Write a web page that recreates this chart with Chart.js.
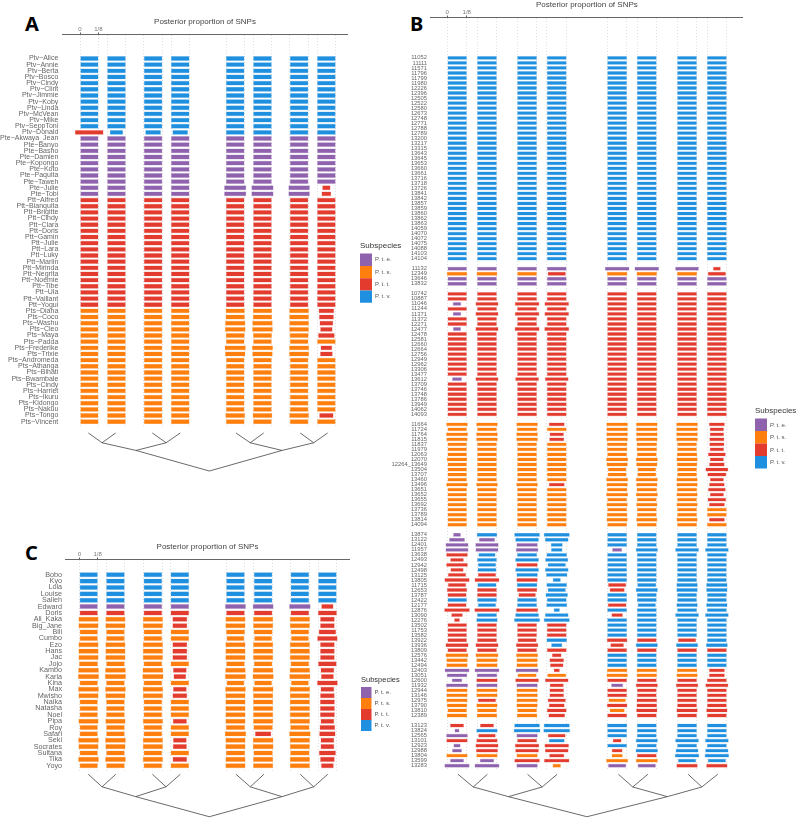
<!DOCTYPE html>
<html>
<head>
<meta charset="utf-8">
<title>Posterior proportion of SNPs</title>
<script src="https://cdn.jsdelivr.net/npm/chart.js@4"></script>
<style>
  html, body { margin: 0; padding: 0; background: #fff; }
  body { position: relative; width: 796px; height: 818px; overflow: hidden; }
  canvas { position: absolute; }
  .letter { position: absolute; font: bold 20px "Noto Sans", sans-serif; line-height: 20px; color: #000; }
</style>
</head>
<body>
<div class="letter" style="left:25px;top:14px">A</div>
<div class="letter" style="left:410px;top:14px">B</div>
<div class="letter" style="left:25px;top:543px">C</div>
<script>
const subspeciesNames = ["P. t. e.", "P. t. s.", "P. t. t.", "P. t. v."];
const subspeciesKeys = ["e", "s", "t", "v"];
const subspeciesColors = ["#8f62ae", "#ff7f0e", "#e33b2e", "#1f90e0"];
const xTickLabels = ["0", "1/8"];

// widths are posterior proportion x 1000 (125 = 1/8), one value per column
const labelsA = ["Ptv−Alice","Ptv−Annie","Ptv−Berta","Ptv−Bosco","Ptv−Cindy","Ptv−Clint","Ptv−Jimmie","Ptv−Koby","Ptv−Linda","Ptv−McVean","Ptv−Mike","Ptv−SeppToni","Ptv−Donald",
  "Pte−Akwaya_Jean","Pte−Banyo","Pte−Basho","Pte−Damien","Pte−Kopongo","Pte−Koto","Pte−Paquita","Pte−Taweh","Pte−Julie","Pte−Tobi",
  "Ptt−Alfred","Ptt−Blanquita","Ptt−Brigitte","Ptt−Cindy","Ptt−Clara","Ptt−Doris","Ptt−Gamin","Ptt−Julie","Ptt−Lara","Ptt−Luky","Ptt−Marlin","Ptt−Mirinda","Ptt−Negrita","Ptt−Noemie","Ptt−Tibe","Ptt−Ula","Ptt−Vaillant","Ptt−Yogui",
  "Pts−Diana","Pts−Coco","Pts−Washu","Pts−Cleo","Pts−Maya","Pts−Padda","Pts−Frederike","Pts−Trixie","Pts−Andromeda","Pts−Athanga","Pts−Bihati","Pts−Bwambale","Pts−Cindy","Pts−Harriet","Pts−Ikuru","Pts−Kidongo","Pts−Nakuu","Pts−Tongo","Pts−Vincent"];
const coloursA = ["vvvvvvvv","vvvvvvvv","vvvvvvvv","vvvvvvvv","vvvvvvvv","vvvvvvvv","vvvvvvvv","vvvvvvvv","vvvvvvvv","vvvvvvvv","vvvvvvvv","vvvvvvvv","tvvvvvvv",
  "eeeeeeee","eeeeeeee","eeeeeeee","eeeeeeee","eeeeeeee","eeeeeeee","eeeeeeee","eeeeeeee","eeeeeeet","eeeeeeet",
  "tttttttt","tttttttt","tttttttt","tttttttt","tttttttt","tttttttt","tttttttt","tttttttt","tttttttt","tttttttt","tttttttt","tttttttt","tttttttt","tttttttt","tttttttt","tttttttt","tttttttt","tttttttt",
  "ssssssst","ssssssst","ssssssst","ssssssst","ssssssst","ssssssss","ssssssst","ssssssst","ssssssss","ssssssss","ssssssss","ssssssss","ssssssss","ssssssss","ssssssss","ssssssss","ssssssss","ssssssst","ssssssss"];
const widthsA = [
  [125,125,125,125,125,125,125,125],[125,125,125,125,125,125,125,125],[125,125,125,125,125,125,125,125],[125,125,125,125,125,125,125,125],
  [125,125,125,125,125,125,125,125],[125,125,125,125,125,125,125,125],[125,125,125,125,125,125,125,125],[125,125,125,125,125,125,125,125],
  [125,125,125,125,125,125,125,125],[125,125,125,125,125,125,125,125],[125,125,125,125,125,125,125,125],[125,125,125,125,125,125,125,125],
  [194,90,105,105,125,125,125,125],
  [125,125,125,125,125,125,125,125],[125,125,125,125,125,125,125,125],[125,125,125,125,125,125,125,125],[125,125,125,125,125,125,125,125],
  [125,125,125,125,125,125,125,125],[125,125,125,125,125,125,125,125],[125,125,125,125,125,125,125,125],[125,125,125,125,125,125,125,125],
  [125,125,125,125,150,150,145,55],[125,125,125,125,150,150,145,65],
  [125,125,125,125,125,125,125,125],[125,125,125,125,125,125,125,125],[125,125,125,125,125,125,125,125],[125,125,125,125,125,125,125,125],
  [125,125,125,125,125,125,125,125],[125,125,125,125,125,125,125,125],[125,125,125,125,125,125,125,125],[125,125,125,125,125,125,125,125],
  [125,125,125,125,125,125,125,125],[125,125,125,125,125,125,125,125],[125,125,125,125,125,125,125,125],[125,125,125,125,125,125,125,125],
  [125,125,125,125,125,125,125,125],[125,125,125,125,125,125,125,125],[125,125,125,125,125,125,125,125],[125,125,125,125,125,125,125,125],
  [125,125,125,125,125,125,125,125],[125,125,125,125,125,125,125,125],
  [125,125,125,125,130,130,133,105],[125,125,125,125,130,130,133,100],[125,125,125,125,138,138,133,92],[125,125,125,125,140,140,133,83],
  [125,125,125,125,128,128,128,112],[125,125,125,125,125,125,125,125],[125,125,125,125,143,143,135,78],[125,125,125,125,138,138,135,85],
  [125,125,125,125,125,125,125,125],[125,125,125,125,125,125,125,125],[125,125,125,125,125,125,125,125],[125,125,125,125,125,125,125,125],
  [125,125,125,125,125,125,125,125],[125,125,125,125,125,125,125,125],[125,125,125,125,125,125,125,125],[125,125,125,125,125,125,125,125],
  [125,125,125,125,125,125,125,125],[125,125,125,125,133,133,133,96],[125,125,125,125,125,125,125,125]];

const labelsB = ["11052","11111","11571","11796","11799","11980","12226","12396","12505","12522","12580","12673","12748","12771","12788","12789","13200","13217","13315","13643","13645","13653","13660","13661","13716","13718","13726","13841","13842","13857","13859","13860","13862","13863","14059","14070","14072","14075","14088","14103","14104","",
  "11132","12349","13646","13832","",
  "10742","10887","11046","11244","11371","11372","12271","12477","12478","12581","12660","12664","12756","12949","12962","13306","13477","13612","13709","13746","13748","13786","13949","14062","14093","",
  "11664","11724","11764","11815","11837","11979","12063","12070","12264_13649","13504","13707","13460","13496","13651","13652","13655","13692","13736","13789","13814","14094","",
  "13874","13122","12401","11957","13638","12493","12942","12498","13125","13805","11715","12653","13787","12422","12177","12876","13090","12276","13502","11753","13582","13922","13936","13809","12576","13442","12494","12403","13051","12600","11932","12944","13146","12975","13790","13810","12389","",
  "13123","13824","12565","13101","12923","12988","13804","13599","13283"];
const coloursB = [
  "vvvvvvvv","vvvvvvvv","vvvvvvvv","vvvvvvvv","vvvvvvvv","vvvvvvvv","vvvvvvvv","vvvvvvvv","vvvvvvvv","vvvvvvvv","vvvvvvvv","vvvvvvvv","vvvvvvvv","vvvvvvvv",
  "vvvvvvvv","vvvvvvvv","vvvvvvvv","vvvvvvvv","vvvvvvvv","vvvvvvvv","vvvvvvvv","vvvvvvvv","vvvvvvvv","vvvvvvvv","vvvvvvvv","vvvvvvvv","vvvvvvvv","vvvvvvvv",
  "vvvvvvvv","vvvvvvvv","vvvvvvvv","vvvvvvvv","vvvvvvvv","vvvvvvvv","vvvvvvvv","vvvvvvvv","vvvvvvvv","vvvvvvvv","vvvvvvvv","vvvvvvvv","vvvvvvvv","",
  "eeeeeeet","ssstssst","eeeeeeee","eeeeeeee","",
  "tttttttt","tttttttt","ettttttt","tttttttt","ettttttt","tttttttt","tttttttt","ettttttt","tttttttt","tttttttt","tttttttt","tttttttt","tttttttt",
  "tttttttt","tttttttt","tttttttt","tttttttt","ettttttt","tttttttt","tttttttt","tttttttt","tttttttt","tttttttt","tttttttt","tttttttt","",
  "ssstssst","ssssssst","ssstssst","ssstssst","ssssssst","ssssssst","ssssssst","ssssssst","ssssssst","ssssssst","ssssssst","ssssssst","ssstssst",
  "ssssssst","ssssssst","ssssssst","ssssssst","ssssssss","ssssssss","ssssssst","ssssssss","",
  "evvvvvvv","eevvvvvv","eeevvvvv","eeevevvv","tvvvvvvv","tvvvvvvv","tvtvvvvv","tvvvvvvv","ttvvvvvv","tttvvvvv",
  "tvvvtvvv","tttvtvvv","tttvvvvv","vvvvvvvv","tvvvtvvv","tttvvvvv","tvvvtvvv","tvvvvvvv","ttttvvvv","ttttvvvv",
  "ttttvvvv","tttvtttv","tttvtvvv","tttttttt","ssstvvvv","ssstvvvv","ssstvvvv","eeetssst","eessssst","ettttttt",
  "eeetettt","sssttttt","sssttttt","stststtt","sssttttt","ssststtt","sssttttt","",
  "ttvvvvvv","evvvvvvv","etetvvvv","tttvtvvv","etttvvvv","ettttvvv","ssststvv","eettssvv","eeeseett"];
const widthsB = [
  [125,125,125,125,125,125,125,125],[125,125,125,125,125,125,125,125],[125,125,125,125,125,125,125,125],[125,125,125,125,125,125,125,125],[125,125,125,125,125,125,125,125],[125,125,125,125,125,125,125,125],[125,125,125,125,125,125,125,125],
  [125,125,125,125,125,125,125,125],[125,125,125,125,125,125,125,125],[125,125,125,125,125,125,125,125],[125,125,125,125,125,125,125,125],[125,125,125,125,125,125,125,125],[125,125,125,125,125,125,125,125],[125,125,125,125,125,125,125,125],
  [125,125,125,125,125,125,125,125],[125,125,125,125,125,125,125,125],[125,125,125,125,125,125,125,125],[125,125,125,125,125,125,125,125],[125,125,125,125,125,125,125,125],[125,125,125,125,125,125,125,125],[125,125,125,125,125,125,125,125],
  [125,125,125,125,125,125,125,125],[125,125,125,125,125,125,125,125],[125,125,125,125,125,125,125,125],[125,125,125,125,125,125,125,125],[125,125,125,125,125,125,125,125],[125,125,125,125,125,125,125,125],[125,125,125,125,125,125,125,125],
  [125,125,125,125,125,125,125,125],[125,125,125,125,125,125,125,125],[125,125,125,125,125,125,125,125],[125,125,125,125,125,125,125,125],[125,125,125,125,125,125,125,125],[125,125,125,125,125,125,125,125],[125,125,125,125,125,125,125,125],
  [125,125,125,125,125,125,125,125],[125,125,125,125,125,125,125,125],[125,125,125,125,125,125,125,125],[125,125,125,125,125,125,125,125],[125,125,125,125,125,125,125,125],[125,125,125,125,125,125,125,125],null,
  [125,125,125,125,156,156,150,48],[130,132,125,115,130,130,128,115],[125,125,125,125,125,125,125,125],[125,125,125,125,125,125,125,125],null,
  [125,125,125,125,125,125,125,125],[125,125,125,125,125,125,125,125],[52,146,156,156,125,125,125,125],[125,125,125,125,125,125,125,125],[52,146,156,156,125,125,125,125],
  [125,125,125,125,125,125,125,125],[125,125,125,125,125,125,125,125],[50,146,158,158,125,125,125,125],[125,125,125,125,125,125,125,125],[125,125,125,125,125,125,125,125],
  [125,125,125,125,125,125,125,125],[125,125,125,125,125,125,125,125],[125,125,125,125,125,125,125,125],[125,125,125,125,125,125,125,125],[125,125,125,125,125,125,125,125],
  [125,125,125,125,125,125,125,125],[125,125,125,125,125,125,125,125],[62,146,150,150,125,125,125,125],[125,125,125,125,125,125,125,125],[125,125,125,125,125,125,125,125],
  [125,125,125,125,125,125,125,125],[125,125,125,125,125,125,125,125],[125,125,125,125,125,125,125,125],[125,125,125,125,125,125,125,125],[125,125,125,125,125,125,125,125],null,
  [137,137,137,100,137,137,137,100],[125,125,130,125,137,137,137,90],[140,137,137,90,137,137,137,90],[135,137,137,95,137,137,137,95],[125,125,125,125,130,130,125,95],
  [125,125,125,125,130,130,125,90],[125,125,125,125,125,125,130,112],[130,125,125,125,140,140,135,88],[125,125,125,125,135,135,130,98],[125,125,125,125,118,118,125,145],
  [125,125,125,125,120,120,125,120],[125,125,125,125,140,140,135,88],[137,137,137,100,135,135,135,98],[125,125,125,125,130,130,128,112],[125,125,125,125,140,140,135,88],
  [125,125,125,125,125,125,125,118],[125,125,125,125,135,135,135,100],[125,125,125,125,125,125,125,125],[125,125,125,125,130,125,125,125],[125,125,125,125,135,135,135,100],[125,125,125,125,125,125,125,125],null,
  [48,130,163,165,125,125,125,125],[100,102,150,150,125,125,125,125],[146,148,135,75,125,125,125,125],[146,146,143,72,62,140,150,150],[137,108,127,130,125,125,125,125],
  [85,125,150,146,125,125,125,125],[137,115,135,115,125,125,125,125],[83,120,150,150,125,125,125,125],[115,115,135,135,125,125,125,125],[160,158,135,50,125,125,125,125],
  [115,120,130,130,115,120,135,135],[128,125,128,115,95,140,135,135],[120,125,110,142,125,125,125,125],[125,125,125,125,125,125,125,125],[120,115,125,132,118,115,135,135],
  [162,160,140,38,125,125,125,125],[72,125,150,150,72,125,150,150],[35,135,165,165,125,125,125,125],[125,125,125,125,125,125,125,125],[125,125,125,125,125,125,125,125],
  [125,125,125,125,125,125,125,125],[125,125,120,130,130,125,115,125],[146,146,142,70,85,140,140,138],[125,125,125,125,125,125,125,125],[146,146,140,60,125,125,125,125],
  [135,135,135,92,125,125,125,125],[135,135,135,85,125,125,125,125],[158,158,146,38,130,130,130,100],[130,130,120,120,135,130,135,100],[65,135,150,150,125,125,125,125],
  [140,135,135,88,75,140,142,146],[135,135,135,92,125,125,125,125],[135,135,135,92,125,125,125,125],[135,115,135,115,110,130,125,125],[130,135,135,100,130,130,125,125],
  [125,125,125,125,95,135,135,135],[130,130,130,105,125,125,125,125],null,
  [88,88,163,165,128,125,125,125],[30,135,170,170,125,125,125,125],[137,110,135,112,125,125,125,125],[135,135,125,100,55,140,150,150],[44,146,155,156,125,125,125,125],
  [62,140,150,150,68,142,145,148],[135,135,135,95,70,125,155,155],[88,90,162,162,140,140,115,115],[160,158,135,52,115,115,135,135]];

const labelsC = ["Bobo","Kyo","Lola","Louise","Salleh","Edward","Doris","Ali_Kaka","Big_Jane","Bili","Cumbo","Ezo","Hans","Jac","Jojo","Kambo","Karla","Kina","Max","Mwisho","Naika","Natasha","Noel","Pipa","Roy","Safari","Seki","Socrates","Sultana","Tika","Yoyo"];
const coloursC = ["vvvvvvvv","vvvvvvvv","vvvvvvvv","vvvvvvvv","vvvvvvvv","eeeeeeet","tttttttt",
  "ssstssst","ssstssst","ssssssst","ssssssst","ssstssst","ssstssst","ssstssst","ssssssst","ssstssst","ssstssst","ssssssst","ssstssst","ssstssst",
  "ssssssst","ssssssst","ssssssst","ssstssst","ssssssst","ssssstst","ssstssst","ssstssst","ssssssst","ssstssst","ssssssst"];
const widthsC = [
  [125,125,125,125,125,125,125,125],[125,125,125,125,125,125,125,125],[125,125,125,125,125,125,125,125],[125,125,125,125,125,125,125,125],[125,125,125,125,125,125,125,125],
  [125,125,125,125,141,141,145,82],[125,125,125,125,125,125,125,128],
  [136,136,136,100,136,136,136,98],[136,136,136,100,136,136,136,98],[125,125,125,125,128,128,125,118],[125,125,125,125,120,120,120,138],
  [136,136,136,100,136,136,136,98],[136,136,136,100,136,136,136,98],[136,136,136,100,136,136,136,98],[128,125,125,125,125,125,125,125],
  [140,140,140,92,138,138,138,92],[143,143,143,85,143,143,143,86],[125,125,125,125,120,120,120,140],[140,140,138,92,140,140,138,92],[136,136,136,100,136,136,136,98],
  [125,125,125,125,136,136,136,100],[125,125,125,125,136,136,136,100],[125,125,125,125,136,136,136,100],[136,136,136,95,136,136,136,92],[125,125,125,125,130,130,130,105],
  [125,125,125,125,145,110,145,110],[140,140,136,92,136,140,136,92],[136,136,136,95,136,140,136,92],[125,125,125,125,130,130,130,115],[140,140,136,98,136,136,136,98],[125,125,125,125,136,136,136,85]];

// dendrogram shared by the three panels: 8 tips, 4 pairs, 2 clades, root
const treeEdges = [[0,8],[1,8],[2,9],[3,9],[4,10],[5,10],[6,11],[7,11],[8,12],[9,12],[10,13],[11,13],[12,14],[13,14]];
const treeXA = [57,243,493,684,1064,1253,1502,1689,150,587,1161,1594,382,1378,882];
const treeXB = [67,256,513,703,1096,1285,1543,1733,165,607,1188,1631,391,1410,894];
const treeXC = [61,249,499,690,1070,1261,1509,1697,155,592,1168,1601,385,1384,888];
const treeDepthA = [0,0,0,0,0,0,0,0,1,1,1,1,1.78,1.78,3.88];
const treeDepthB = [0,0,0,0,0,0,0,0,1,1,1,1,1.76,1.76,3.34];
const treeDepthC = [0,0,0,0,0,0,0,0,1,1,1,1,1.78,1.78,3.38];

const columnStartA = [0,186,436,621,996,1182,1432,1618];
const columnStartB = [0,192,449,639,1026,1216,1474,1665];
const columnStartC = [0,184,440,624,1004,1193,1444,1632];

const colourFor = (key) => subspeciesColors[subspeciesKeys.indexOf(key)];

function hexAlpha(hex, a) {
  const n = parseInt(hex.slice(1), 16);
  return `rgba(${n >> 16},${(n >> 8) & 255},${n & 255},${a})`;
}

function addCanvas(left, top, width, height) {
  const c = document.createElement("canvas");
  c.style.left = left + "px";
  c.style.top = top + "px";
  c.style.width = width + "px";
  c.style.height = height + "px";
  c.width = width;
  c.height = height;
  document.body.appendChild(c);
  return c;
}

function drawBars(p) {
  const datasets = p.columns.map((start, j) => {
    const data = [];
    const colours = [];
    const edges = [];
    p.labels.forEach((label, i) => {
      if (!p.widths[i]) return;
      const w = p.widths[i][j];
      const mid = start + 62.5;
      data.push({ x: [mid - w / 2, mid + w / 2], y: i });
      const col = colourFor(p.colours[i][j]);
      colours.push(col);
      edges.push(hexAlpha(col, 0.25));
    });
    return {
      label: "column " + (j + 1),
      data,
      backgroundColor: colours,
      borderColor: edges,
      borderWidth: 0.7,
      borderSkipped: false,
      barThickness: p.barThickness,
      grouped: false,
    };
  });
  const ticksX = [];
  p.columns.forEach((start) => ticksX.push(start, start + 125));

  const pitch = (p.lastY - p.firstY) / (p.labels.length - 1);
  const yMin = -(p.firstY - p.axisY) / pitch;
  const yMax = yMin + (p.gridBottom - p.axisY) / pitch;
  const top = Math.round(p.axisY - p.axisHeight);

  new Chart(addCanvas(p.left, top, p.width, Math.round(p.gridBottom - top)), {
    type: "bar",
    data: { datasets },
    options: {
      indexAxis: "y",
      responsive: false,
      animation: false,
      devicePixelRatio: 1,
      layout: { padding: 0 },
      plugins: { legend: { display: false }, tooltip: { enabled: false } },
      scales: {
        x: {
          type: "linear",
          position: "top",
          min: p.xMin,
          max: p.xMax,
          title: {
            display: true,
            text: "Posterior proportion of SNPs",
            color: "#444",
            font: { family: "Liberation Sans", size: 8 },
            padding: { top: 0, bottom: 0 },
          },
          border: { color: "#666", width: 1, dash: [1, 2] },
          grid: {
            color: "#d8d8d8",
            lineWidth: 0.8,
            tickLength: 2,
            tickColor: (ctx) => (ctx.index < 2 ? "#333" : "rgba(0,0,0,0)"),
            tickBorderDash: [],
          },
          afterBuildTicks: (scale) => {
            scale.ticks = ticksX.map((value) => ({ value }));
          },
          afterFit: (scale) => {
            scale.height = p.axisHeight;
          },
          ticks: {
            autoSkip: false,
            maxRotation: 0,
            padding: 0,
            color: "#777",
            font: { family: "Liberation Sans", size: 6 },
            callback: (value, index) => xTickLabels[index] || "",
          },
        },
        y: {
          type: "linear",
          reverse: true,
          offset: false,
          min: yMin,
          max: yMax,
          border: { display: false },
          grid: { display: false, drawTicks: false, offset: false },
          afterBuildTicks: (scale) => {
            scale.ticks = p.labels.map((_, value) => ({ value }));
          },
          afterFit: (scale) => {
            scale.width = p.labelWidth;
            scale.paddingTop = 0;
            scale.paddingBottom = 0;
          },
          ticks: {
            autoSkip: false,
            maxRotation: 0,
            padding: p.labelPad,
            color: "#666",
            font: { family: "Liberation Sans", size: p.labelSize },
            callback: (value) => p.labels[value] || "",
          },
        },
      },
    },
  });
}

function drawTree(p) {
  const points = [];
  treeEdges.forEach(([a, b]) => {
    points.push({ x: p.treeX[a], y: p.treeDepth[a] });
    points.push({ x: p.treeX[b], y: p.treeDepth[b] });
    points.push({ x: null, y: null });
  });
  const depthMax = Math.max(...p.treeDepth);
  const areaLeft = p.left + p.labelWidth;
  new Chart(addCanvas(areaLeft, p.treeTop, p.width - p.labelWidth, Math.round((depthMax + 0.2) * p.treeStep)), {
    type: "scatter",
    data: {
      datasets: [{
        label: "tree",
        data: points,
        showLine: true,
        spanGaps: false,
        pointRadius: 0,
        borderColor: "#444",
        borderWidth: 0.8,
      }],
    },
    options: {
      responsive: false,
      animation: false,
      devicePixelRatio: 1,
      layout: { padding: 0 },
      plugins: { legend: { display: false }, tooltip: { enabled: false } },
      scales: {
        x: { type: "linear", display: false, min: p.xMin, max: p.xMax },
        y: { type: "linear", display: false, reverse: true, min: -0.1, max: depthMax + 0.1 },
      },
    },
  });
}

function drawLegend(l) {
  new Chart(addCanvas(l.left, l.top, 60, l.height), {
    type: "bar",
    data: {
      datasets: subspeciesNames.map((name, i) => ({
        label: name,
        data: [],
        backgroundColor: subspeciesColors[i],
        borderWidth: 0,
      })),
    },
    options: {
      responsive: false,
      animation: false,
      devicePixelRatio: 1,
      layout: { padding: 0 },
      scales: { x: { display: false }, y: { display: false } },
      plugins: {
        tooltip: { enabled: false },
        legend: {
          position: "left",
          align: "start",
          maxWidth: 60,
          onClick: null,
          title: {
            display: true,
            text: "Subspecies",
            position: "start",
            color: "#333",
            font: { family: "Liberation Sans", size: l.titleSize },
            padding: { top: 0, bottom: 2, left: 0, right: 0 },
          },
          labels: {
            boxWidth: l.box,
            boxHeight: l.boxH,
            padding: 0,
            color: "#555",
            font: { family: "Liberation Sans", size: 6 },
          },
        },
      },
    },
  });
}

const panels = [
  { labels: labelsA, colours: coloursA, widths: widthsA, columns: columnStartA, treeX: treeXA, treeDepth: treeDepthA,
    left: 0, width: 348, axisHeight: 17.5, labelWidth: 62, labelPad: 3.7, labelSize: 7,
    xMin: -123, xMax: 1828, axisY: 34.7, firstY: 58.7, lastY: 421.7, gridBottom: 426, barThickness: 4.6, treeTop: 432, treeStep: 9.7 },
  { labels: labelsB, colours: coloursB, widths: widthsB, columns: columnStartB, treeX: treeXB, treeDepth: treeDepthB,
    left: 388, width: 355, axisHeight: 17.5, labelWidth: 42.7, labelPad: 3.7, labelSize: 5.8,
    xMin: -106, xMax: 1895, axisY: 17.3, firstY: 57.7, lastY: 765.7, gridBottom: 770, barThickness: 3.6, treeTop: 773, treeStep: 12.7 },
  { labels: labelsC, colours: coloursC, widths: widthsC, columns: columnStartC, treeX: treeXC, treeDepth: treeDepthC,
    left: 0, width: 350, axisHeight: 17.5, labelWidth: 65, labelPad: 3, labelSize: 7.2,
    xMin: -98, xMax: 1849, axisY: 559, firstY: 574.3, lastY: 765.7, gridBottom: 773, barThickness: 4.8, treeTop: 773, treeStep: 12.7 },
];

panels.forEach((p) => {
  drawBars(p);
  drawTree(p);
});

drawLegend({ left: 360, top: 242, height: 64, titleSize: 8, box: 12, boxH: 12.3 });
drawLegend({ left: 755, top: 407, height: 64, titleSize: 8, box: 12, boxH: 12.5 });
drawLegend({ left: 361, top: 676, height: 58, titleSize: 7.5, box: 10.5, boxH: 11 });
</script>
</body>
</html>
